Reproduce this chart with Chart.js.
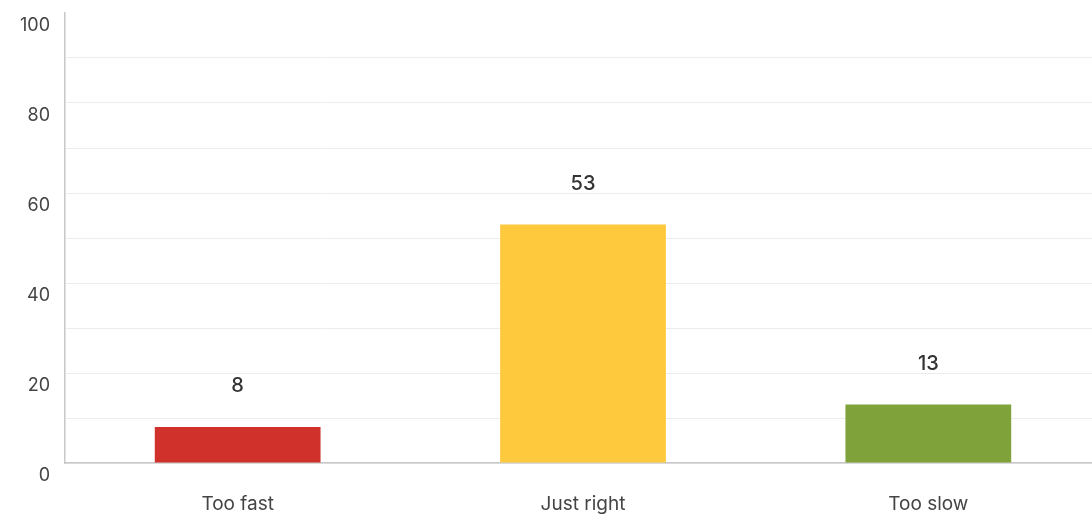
<!DOCTYPE html>
<html>
<head>
<meta charset="utf-8">
<script src="https://cdn.jsdelivr.net/npm/chart.js@4/dist/chart.umd.min.js"></script>
<style>
  html, body { margin: 0; padding: 0; background: #fff; overflow: hidden; }
  #wrap { width: 1101px; height: 517px; position: relative; }
</style>
</head>
<body>
<div id="wrap"><canvas id="myChart"></canvas></div>
<script>
const categories = ["Too fast", "Just right", "Too slow"];
const responses = [8, 53, 13];
const barColors = ["#D0312B", "#FEC93C", "#7FA33A"];

const fontFamily = "Inter, 'Open Sans', sans-serif";

// draws the number above each bar
const valueLabels = {
  id: "valueLabels",
  afterDatasetsDraw(chart) {
    const c = chart.ctx;
    const meta = chart.getDatasetMeta(0);
    c.save();
    c.font = "500 20px " + fontFamily;
    c.fillStyle = "#333";
    c.textAlign = "center";
    c.textBaseline = "middle";
    meta.data.forEach((bar, i) => {
      c.fillText(String(responses[i]), bar.x, bar.y - 41);
    });
    c.restore();
  }
};

const ctx = document.getElementById("myChart");

const config = {
  type: "bar",
  data: {
    labels: categories,
    datasets: [{
      data: responses,
      backgroundColor: barColors,
      borderWidth: 0,
      barPercentage: 0.48,
      categoryPercentage: 1.0,
    }]
  },
  options: {
    responsive: true,
    maintainAspectRatio: false,
    animation: false,
    layout: { padding: { top: 13 } },
    plugins: {
      legend: { display: false },
      tooltip: { enabled: false },
    },
    scales: {
      x: {
        grid: { display: false, drawTicks: false },
        border: { color: "#c8c8c8", width: 1.5 },
        ticks: {
          color: "#444",
          font: { family: fontFamily, size: 19 },
          padding: 30,
        },
        afterFit(scale) { scale.height = 54; },
      },
      y: {
        min: 0,
        max: 100,
        grid: {
          drawTicks: false,
          color: (c) => (c.tick && c.tick.value === 100 ? "rgba(0,0,0,0)" : "#ececec"),
          lineWidth: 1,
        },
        border: { color: "#c8c8c8", width: 1.5 },
        ticks: {
          stepSize: 10,
          color: "#444",
          font: { family: fontFamily, size: 18 },
          padding: 15,
          labelOffset: 13,
          callback: (v) => (v % 20 === 0 ? v : ""),
        },
        afterFit(scale) {
          scale.width = 65;
          scale.paddingTop = 0;
          scale.paddingBottom = 0;
        },
      }
    }
  },
  plugins: [valueLabels]
};

const myBarChart = new Chart(ctx, config);
</script>
</body>
</html>
